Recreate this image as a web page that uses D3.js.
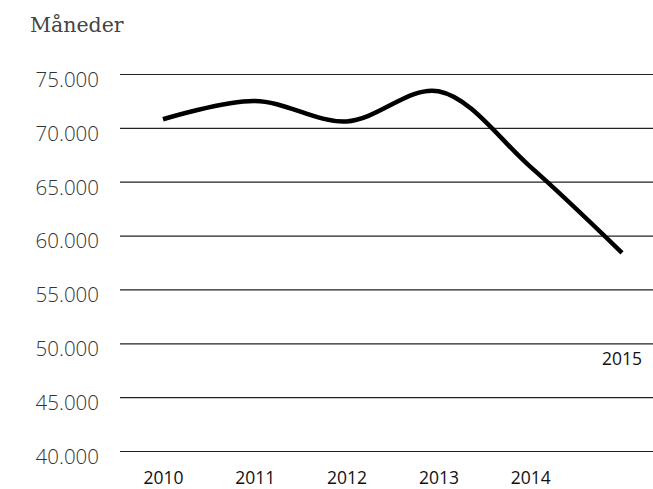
<!DOCTYPE html>
<html lang="no">
<head>
<meta charset="UTF-8">
<title>Måneder</title>
<style>
  body { margin: 0; background: #fff; }
  svg { display: block; }
</style>
</head>
<body>
<svg id="chart" width="653" height="489"></svg>
<script src="https://cdn.jsdelivr.net/npm/d3@7"></script>
<script>
// data
var years = [2010, 2011, 2012, 2013, 2014, 2015];
var months = [70800, 72500, 70600, 73400, 66400, 58400];
var yTicks = [40000, 45000, 50000, 55000, 60000, 65000, 70000, 75000];

var svg = d3.select("#chart");

var x = d3.scaleLinear().domain([2010, 2015]).range([163, 622]);
var y = d3.scaleLinear().domain([40000, 75000]).range([451, 74]);

var fmt = function(v) { return d3.format(",")(v).replace(/,/g, "."); };

// title
svg.append("text")
    .attr("x", 30).attr("y", 32)
    .style("font-family", "'DejaVu Serif', serif")
    .style("font-size", "20.5px")
    .style("font-weight", "300")
    .style("fill", "#444")
    .text("Måneder");

// gridlines + labels
var yAxis = d3.axisLeft(y)
    .tickValues(yTicks)
    .tickSize(0)
    .tickPadding(21)
    .tickFormat(fmt);

var gy = svg.append("g")
    .attr("transform", "translate(120,0)")
    .call(yAxis);
gy.select(".domain").remove();
gy.selectAll(".tick line")
    .attr("x2", 533)
    .attr("stroke", "#222")
    .attr("stroke-width", 1.2);
gy.selectAll(".tick text")
    .attr("dy", "0.6em")
    .style("font-family", "'Open Sans', sans-serif")
    .style("font-size", "20.5px")
    .style("font-weight", "300")
    .style("fill", "#333");

// x labels
var xAxis = d3.axisBottom(x)
    .tickValues(years.slice(0, 5))
    .tickSize(0)
    .tickPadding(0)
    .tickFormat(d3.format("d"));

var gx = svg.append("g")
    .attr("transform", "translate(0,471)")
    .call(xAxis);
gx.select(".domain").remove();
gx.selectAll(".tick text")
    .attr("dy", "0.75em")
    .style("font-family", "'Open Sans', sans-serif")
    .style("font-size", "17.5px")
    .style("fill", "#111");

// 2015 label sits above the 50.000 line
svg.append("text")
    .attr("x", x(2015))
    .attr("y", y(50000) + 22)
    .attr("text-anchor", "middle")
    .style("font-family", "'Open Sans', sans-serif")
    .style("font-size", "17.5px")
    .style("fill", "#111")
    .text("2015");

// line
var line = d3.line()
    .x(function(d, i) { return x(years[i]); })
    .y(function(d) { return y(d); })
    .curve(d3.curveCatmullRom.alpha(0.5));

svg.append("path")
    .datum(months)
    .attr("d", line)
    .attr("fill", "none")
    .attr("stroke", "#000")
    .attr("stroke-width", 4.5)
    .attr("stroke-linejoin", "round");
</script>
</body>
</html>
